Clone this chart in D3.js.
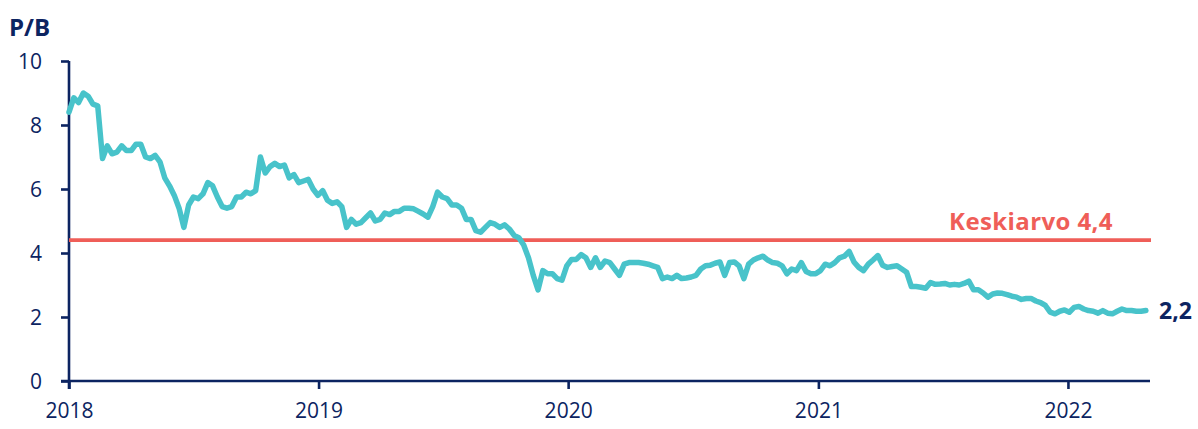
<!DOCTYPE html>
<html>
<head>
<meta charset="utf-8">
<script src="https://cdn.jsdelivr.net/npm/d3@7/dist/d3.min.js"></script>
<style>
  html, body { margin: 0; padding: 0; background: #ffffff; }
  svg { display: block; }
  text { font-family: "Open Sans", "DejaVu Sans", sans-serif; }
</style>
</head>
<body>
<svg id="chart" width="1198" height="429"></svg>
<script>
// Weekly P/B readings, first observation on the week of 2018-01-01
const firstWeek = "2018-01-01";
const pbWeekly = [
  8.4, 8.85, 8.7, 9.0, 8.9, 8.65, 8.6, 6.95, 7.35, 7.1,
  7.15, 7.35, 7.2, 7.2, 7.4, 7.4, 7.0, 6.95, 7.05, 6.85,
  6.35, 6.1, 5.8, 5.4, 4.8, 5.5, 5.75, 5.7, 5.85, 6.2,
  6.1, 5.75, 5.45, 5.4, 5.45, 5.75, 5.75, 5.9, 5.85, 5.95,
  7.0, 6.5, 6.7, 6.8, 6.7, 6.75, 6.35, 6.45, 6.2, 6.25,
  6.3, 6.0, 5.8, 5.95, 5.65, 5.55, 5.6, 5.45, 4.8, 5.05,
  4.9, 4.95, 5.1, 5.25, 5.0, 5.05, 5.25, 5.2, 5.3, 5.3,
  5.4, 5.4, 5.38, 5.3, 5.22, 5.12, 5.45, 5.9, 5.75, 5.7,
  5.5, 5.5, 5.4, 5.05, 5.05, 4.7, 4.65, 4.8, 4.95, 4.9,
  4.8, 4.88, 4.75, 4.55, 4.48, 4.25, 3.85, 3.3, 2.85, 3.45,
  3.35, 3.35, 3.2, 3.15, 3.6, 3.8, 3.8, 3.95, 3.85, 3.55,
  3.85, 3.55, 3.75, 3.7, 3.5, 3.3, 3.65, 3.7, 3.7, 3.7,
  3.68, 3.65, 3.6, 3.55, 3.2, 3.25, 3.2, 3.3, 3.2, 3.22,
  3.25, 3.3, 3.5, 3.6, 3.62, 3.68, 3.72, 3.3, 3.7, 3.72,
  3.6, 3.2, 3.65, 3.78, 3.85, 3.9, 3.78, 3.7, 3.68, 3.6,
  3.35, 3.5, 3.45, 3.7, 3.42, 3.35, 3.35, 3.45, 3.65, 3.6,
  3.7, 3.85, 3.9, 4.05, 3.72, 3.55, 3.45, 3.65, 3.78, 3.92,
  3.62, 3.55, 3.58, 3.6, 3.5, 3.4, 2.95, 2.95, 2.93, 2.9,
  3.08, 3.02, 3.03, 3.05, 3.0, 3.02, 3.0, 3.05, 3.12, 2.85,
  2.85, 2.75, 2.62, 2.72, 2.75, 2.74, 2.7, 2.65, 2.62, 2.55,
  2.58, 2.58, 2.5, 2.45, 2.36, 2.15, 2.1, 2.18, 2.22, 2.15,
  2.3, 2.33, 2.25, 2.2, 2.18, 2.12, 2.2, 2.12, 2.1, 2.18,
  2.25, 2.2, 2.2, 2.18, 2.18, 2.2
];
const averagePB = 4.4;
const averageLabel = "Keskiarvo 4,4";
const latestLabel = "2,2";
const yTicks = [0, 2, 4, 6, 8, 10];
const xTickYears = [2018, 2019, 2020, 2021, 2022];
const domainStart = "2018-01-01";
const domainEnd = "2022-05-01";
const yTitle = "P/B";

const navy = "#0c2461";
const teal = "#48c3ca";
const red = "#ef5e58";

const svg = d3.select("#chart");
const margin = { left: 69, top: 61 };
const plotW = 1150 - margin.left;
const plotH = 381 - margin.top;

const parse = d3.timeParse("%Y-%m-%d");
const start = parse(firstWeek);
const series = pbWeekly.map((v, i) => ({ date: d3.timeDay.offset(start, 7 * i), value: v }));

const x = d3.scaleTime()
  .domain([parse(domainStart), parse(domainEnd)])
  .range([margin.left, margin.left + plotW]);
const y = d3.scaleLinear()
  .domain([0, 10])
  .range([margin.top + plotH, margin.top]);

const g = svg.append("g");

// y axis
const yAxis = d3.axisLeft(y)
  .tickValues(yTicks)
  .tickSize(8)
  .tickPadding(19)
  .tickFormat(d3.format("d"));
const yg = g.append("g")
  .attr("transform", `translate(${margin.left},0)`)
  .call(yAxis);
yg.select(".domain").remove();
yg.append("line")
  .attr("x1", 0).attr("x2", 0)
  .attr("y1", y(10)).attr("y2", y(0) + 8)
  .attr("stroke", navy).attr("stroke-width", 2.6);
yg.selectAll(".tick line").attr("stroke", navy).attr("stroke-width", 2.6);
yg.selectAll(".tick text")
  .attr("fill", navy)
  .style("font-size", "21px")
  .attr("dy", "0.35em");

// x axis
const xAxis = d3.axisBottom(x)
  .tickValues(xTickYears.map(yr => new Date(yr, 0, 1)))
  .tickSize(8)
  .tickPadding(14)
  .tickFormat(d3.timeFormat("%Y"));
const xg = g.append("g")
  .attr("transform", `translate(0,${y(0)})`)
  .call(xAxis);
xg.select(".domain").remove();
xg.append("line")
  .attr("x1", margin.left - 8).attr("x2", margin.left + plotW)
  .attr("y1", 0).attr("y2", 0)
  .attr("stroke", navy).attr("stroke-width", 2.6);
xg.selectAll(".tick line").attr("stroke", navy).attr("stroke-width", 2.6);
xg.selectAll(".tick text")
  .attr("fill", navy)
  .style("font-size", "21px");

// average reference line
g.append("line")
  .attr("x1", margin.left).attr("x2", margin.left + plotW + 1)
  .attr("y1", y(averagePB)).attr("y2", y(averagePB))
  .attr("stroke", red).attr("stroke-width", 3.8);

g.append("text")
  .attr("x", 1031).attr("y", y(averagePB) - 10)
  .attr("text-anchor", "middle")
  .attr("fill", red)
  .style("font-size", "24px").style("font-weight", 700)
  .style("letter-spacing", "0.4px")
  .text(averageLabel);

// P/B series
const line = d3.line()
  .x(d => x(d.date))
  .y(d => y(d.value));
g.append("path")
  .datum(series)
  .attr("d", line)
  .attr("fill", "none")
  .attr("stroke", teal)
  .attr("stroke-width", 5.5)
  .attr("stroke-linejoin", "round")
  .attr("stroke-linecap", "round");

// latest value label
const last = series[series.length - 1];
g.append("text")
  .attr("x", 1159).attr("y", y(last.value))
  .attr("dy", "0.35em")
  .attr("fill", navy)
  .style("font-size", "23px").style("font-weight", 700)
  .text(latestLabel);

// axis title
g.append("text")
  .attr("x", 9).attr("y", 36)
  .attr("fill", navy)
  .style("font-size", "24px").style("font-weight", 700)
  .text(yTitle);
</script>
</body>
</html>
